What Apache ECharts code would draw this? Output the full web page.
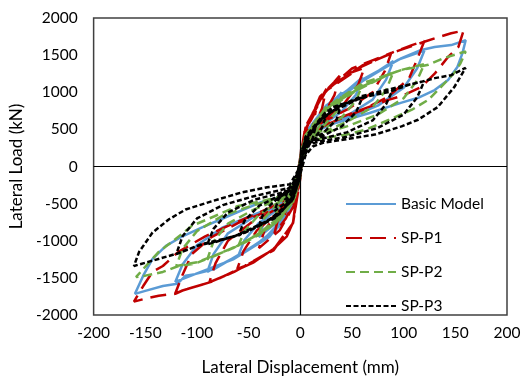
<!DOCTYPE html>
<html>
<head>
<meta charset="utf-8">
<script src="https://cdn.jsdelivr.net/npm/echarts@6/dist/echarts.min.js"></script>
<style>html,body{margin:0;padding:0;background:#fff;}#c{width:524px;height:381px;}</style>
</head>
<body>
<div id="c"></div>
<script>
var seriesNames = ['Basic Model', 'SP-P1', 'SP-P2', 'SP-P3'];
var xTicks = [-200, -150, -100, -50, 0, 50, 100, 150, 200];
var yTicks = [-2000, -1500, -1000, -500, 0, 500, 1000, 1500, 2000];

var basicModel = [
[0,0],[3,200],[8,400],[6,250],[2,100],[0,-40],[-3,-200],[-8,-350],[-6,-220],[-2,-90],[0,20],
[3,250],[8,450],[15,600],[12,420],[6,250],[2,150],[0,-80],[-4,-300],[-10,-450],[-15,-550],[-12,-390],[-6,-230],[-2,-130],[0,40],
[4,320],[12,560],[25,800],[21,600],[12,400],[4,250],[0,-100],[-5,-380],[-14,-580],[-25,-750],[-21,-560],[-12,-380],[-4,-250],[0,60],
[5,380],[18,680],[40,1000],[35,780],[22,560],[8,380],[2,260],[0,-120],[-6,-430],[-20,-720],[-40,-950],[-35,-740],[-22,-530],[-8,-370],[-2,-260],[0,80],
[5,400],[20,720],[40,960],[60,1200],[54,970],[40,740],[20,540],[6,400],[2,280],[0,-150],[-6,-480],[-20,-800],[-40,-1020],[-60,-1200],[-54,-990],[-40,-760],[-20,-560],[-6,-400],[-2,-280],[0,100],
[5,420],[25,780],[55,1100],[90,1420],[83,1170],[70,900],[45,680],[20,520],[6,400],[1,250],[-1,-200],[-7,-520],[-25,-880],[-55,-1160],[-90,-1420],[-84,-1180],[-70,-900],[-45,-680],[-20,-520],[-6,-410],[0,100],
[5,430],[25,800],[60,1150],[95,1440],[120,1560],[113,1320],[100,1060],[75,820],[45,650],[20,520],[6,410],[1,260],[-1,-220],[-8,-560],[-30,-950],[-65,-1250],[-100,-1440],[-121,-1555],[-114,-1320],[-100,-1060],[-75,-820],[-45,-650],[-20,-510],[-6,-410],[0,120],
[5,450],[25,820],[60,1170],[98,1460],[117,1570],[130,1610],[146,1635],[160,1700],[157,1530],[152,1340],[143,1165],[130,1030],[114,925],[98,860],[67,720],[35,590],[19,500],[6,400],[1,250],[-1,-250],[-10,-575],[-23,-800],[-38,-1020],[-61,-1200],[-83,-1380],[-102,-1450],[-111,-1470],[-119,-1580],[-133,-1610],[-150,-1675],[-160,-1715],[-152,-1470],[-143,-1245],[-130,-1070],[-114,-940],[-95,-820],[-70,-670],[-38,-480],[-16,-400],[-4,-300],[0,0]
];

var spP1 = [
[0,0],[3,300],[8,500],[6,320],[2,120],[0,-50],[-3,-250],[-8,-450],[-6,-280],[-2,-100],[0,30],
[3,320],[8,560],[15,750],[12,540],[6,320],[2,170],[0,-80],[-4,-350],[-10,-520],[-15,-650],[-12,-460],[-6,-280],[-2,-150],[0,50],
[4,400],[12,720],[25,1040],[21,780],[12,500],[4,300],[0,-100],[-5,-450],[-14,-700],[-25,-900],[-21,-680],[-12,-450],[-4,-280],[0,70],
[5,460],[18,900],[38,1220],[33,960],[22,680],[8,450],[2,300],[0,-120],[-6,-520],[-20,-860],[-40,-1100],[-35,-870],[-22,-620],[-8,-420],[-2,-290],[0,90],
[5,480],[19,940],[38,1210],[62,1330],[56,1100],[42,840],[22,620],[7,450],[2,300],[0,-160],[-7,-750],[-13,-940],[-26,-1110],[-45,-1290],[-61,-1380],[-55,-1140],[-42,-860],[-22,-630],[-7,-450],[-2,-300],[0,110],
[5,500],[22,980],[50,1320],[88,1530],[82,1290],[70,1000],[47,780],[22,600],[7,460],[1,280],[-1,-220],[-7,-760],[-26,-1130],[-64,-1420],[-88,-1560],[-82,-1300],[-70,-1000],[-48,-760],[-24,-580],[-7,-440],[0,120],
[5,520],[25,1020],[60,1350],[90,1540],[108,1635],[120,1690],[113,1440],[105,1180],[85,940],[60,760],[35,620],[15,500],[5,380],[1,250],[-1,-240],[-7,-760],[-26,-1120],[-64,-1420],[-90,-1570],[-102,-1620],[-114,-1670],[-121,-1710],[-114,-1460],[-105,-1180],[-86,-950],[-60,-760],[-35,-620],[-15,-500],[-5,-380],[0,130],
[5,540],[25,1040],[60,1360],[95,1560],[120,1680],[133,1740],[146,1795],[158,1830],[153,1610],[143,1475],[130,1250],[117,1070],[100,960],[86,900],[60,770],[35,640],[15,480],[5,300],[0,0],[-7,-750],[-13,-940],[-26,-1110],[-45,-1290],[-64,-1410],[-83,-1540],[-102,-1620],[-114,-1670],[-121,-1715],[-137,-1740],[-150,-1780],[-161,-1820],[-152,-1610],[-143,-1420],[-133,-1340],[-118,-1150],[-102,-1020],[-92,-940],[-70,-800],[-48,-670],[-26,-535],[-8,-400],[0,-100]
];

var spP2 = [
[0,0],[3,220],[8,400],[6,250],[2,90],[0,-40],[-3,-190],[-8,-350],[-6,-210],[-2,-80],[0,20],
[3,250],[8,450],[15,600],[12,420],[6,250],[2,140],[0,-70],[-4,-280],[-10,-420],[-15,-500],[-12,-360],[-6,-220],[-2,-120],[0,40],
[4,320],[12,560],[25,800],[21,600],[12,400],[4,250],[0,-90],[-5,-350],[-14,-540],[-25,-700],[-21,-520],[-12,-350],[-4,-230],[0,60],
[5,370],[18,660],[40,950],[35,740],[22,540],[8,370],[2,250],[0,-110],[-6,-420],[-20,-680],[-40,-900],[-35,-700],[-22,-500],[-8,-350],[-2,-240],[0,80],
[5,390],[20,700],[40,920],[60,1100],[54,890],[40,660],[20,480],[6,370],[2,260],[0,-140],[-6,-450],[-20,-720],[-40,-920],[-60,-1070],[-54,-870],[-40,-650],[-20,-470],[-6,-360],[-2,-250],[0,90],
[5,400],[25,760],[55,1030],[90,1270],[83,1030],[70,800],[45,600],[20,450],[6,370],[1,240],[-1,-190],[-7,-480],[-25,-780],[-55,-1030],[-90,-1250],[-84,-1010],[-70,-770],[-45,-580],[-20,-440],[-6,-360],[0,100],
[5,410],[25,780],[60,1080],[95,1290],[120,1380],[113,1160],[100,920],[75,700],[45,540],[20,440],[6,370],[1,240],[-1,-200],[-8,-500],[-30,-820],[-65,-1100],[-100,-1290],[-120,-1340],[-114,-1110],[-100,-870],[-75,-660],[-45,-520],[-20,-420],[-6,-350],[0,100],
[5,420],[25,800],[60,1120],[98,1300],[124,1370],[139,1460],[160,1550],[155,1390],[149,1260],[136,1070],[124,900],[108,765],[86,630],[64,500],[45,430],[26,390],[12,360],[4,250],[0,0],[-10,-535],[-23,-710],[-38,-890],[-61,-1070],[-83,-1200],[-102,-1310],[-118,-1340],[-133,-1420],[-150,-1470],[-159,-1490],[-152,-1380],[-137,-1150],[-121,-980],[-105,-800],[-83,-670],[-61,-535],[-38,-470],[-19,-400],[-5,-300],[0,-50]
];

var spP3 = [
[0,0],[3,200],[8,350],[6,200],[2,80],[0,-40],[-3,-170],[-8,-300],[-6,-180],[-2,-70],[0,20],
[3,230],[8,420],[15,550],[12,380],[6,220],[2,130],[0,-60],[-4,-250],[-10,-380],[-15,-450],[-12,-320],[-6,-200],[-2,-110],[0,40],
[4,290],[12,500],[25,700],[21,520],[12,350],[4,230],[0,-80],[-5,-320],[-14,-490],[-25,-600],[-21,-440],[-12,-300],[-4,-200],[0,50],
[5,340],[18,600],[40,850],[35,630],[22,450],[8,320],[2,230],[0,-100],[-6,-380],[-20,-620],[-40,-800],[-35,-600],[-22,-430],[-8,-310],[-2,-220],[0,70],
[5,360],[20,640],[40,830],[60,930],[54,730],[40,540],[20,400],[6,320],[2,240],[0,-120],[-6,-400],[-20,-640],[-40,-800],[-60,-930],[-54,-730],[-40,-530],[-20,-390],[-6,-310],[-2,-230],[0,80],
[5,380],[25,700],[55,900],[90,1050],[83,840],[70,620],[45,460],[20,370],[6,310],[1,220],[-1,-180],[-7,-440],[-25,-700],[-55,-900],[-90,-1050],[-84,-840],[-70,-620],[-45,-450],[-20,-360],[-6,-300],[0,80],
[5,400],[25,740],[60,950],[95,1070],[120,1150],[113,930],[100,700],[75,520],[45,400],[20,340],[6,290],[1,200],[-1,-180],[-8,-460],[-30,-720],[-65,-950],[-100,-1070],[-120,-1180],[-114,-940],[-100,-700],[-75,-520],[-45,-400],[-20,-320],[-6,-270],[0,80],
[10,455],[19,630],[31,800],[48,870],[64,940],[86,1005],[105,1100],[117,1140],[130,1190],[146,1230],[160,1330],[149,1070],[133,800],[114,630],[98,540],[72,430],[41,360],[22,320],[12,270],[5,150],[0,-100],[-10,-480],[-23,-670],[-42,-800],[-64,-940],[-95,-1045],[-121,-1180],[-161,-1340],[-156,-1150],[-143,-890],[-127,-710],[-111,-580],[-86,-470],[-57,-350],[-32,-280],[-10,-240],[0,0]
];

var FONT = 'Lato';
var chart = echarts.init(document.getElementById('c'), null, {renderer: 'canvas'});

function mkSeries(name, data, color, type, z) {
  return {
    name: name, type: 'line', data: data, showSymbol: false, symbol: 'none',
    smooth: false, animation: false, z: z,
    lineStyle: {color: color, width: 2.5, type: type},
    itemStyle: {color: color}
  };
}

var series = [
  mkSeries(seriesNames[0], basicModel, '#5B9BD5', 'solid', 2),
  mkSeries(seriesNames[1], spP1, '#C00000', [16, 8], 3),
  mkSeries(seriesNames[2], spP2, '#70AD47', [9, 5], 4),
  mkSeries(seriesNames[3], spP3, '#000000', [5, 2.5], 5)
];
series[0].markLine = {
  silent: true, symbol: 'none', animation: false, label: {show: false},
  lineStyle: {color: '#000', width: 1.2, type: 'solid'},
  data: [{xAxis: 0}, {yAxis: 0}]
};

function plain(v) { return String(v); }

chart.setOption({
  animation: false,
  backgroundColor: '#fff',
  grid: {left: 87, right: 17, top: 18, bottom: 65, show: true, borderColor: '#404040', borderWidth: 1.5},
  legend: {
    data: seriesNames, orient: 'vertical', left: 340, top: 191,
    itemWidth: 50, itemHeight: 14, itemGap: 18,
    itemStyle: {opacity: 0},
    textStyle: {fontFamily: FONT, fontSize: 15.5, color: '#000'}
  },
  xAxis: {
    type: 'value', min: xTicks[0], max: xTicks[xTicks.length - 1], interval: 50,
    name: 'Lateral Displacement (mm)', nameLocation: 'middle', nameGap: 44,
    nameTextStyle: {fontFamily: FONT, fontSize: 17, color: '#000'},
    axisLine: {show: false, onZero: false}, axisTick: {show: false}, splitLine: {show: false},
    axisLabel: {fontFamily: FONT, fontSize: 15.5, color: '#000', margin: 10, formatter: plain}
  },
  yAxis: {
    type: 'value', min: yTicks[0], max: yTicks[yTicks.length - 1], interval: 500,
    name: 'Lateral Load (kN)', nameLocation: 'middle', nameGap: 61, nameRotate: 90,
    nameTextStyle: {fontFamily: FONT, fontSize: 17, color: '#000'},
    axisLine: {show: false, onZero: false}, axisTick: {show: false}, splitLine: {show: false},
    axisLabel: {fontFamily: FONT, fontSize: 15.5, color: '#000', margin: 16, formatter: plain}
  },
  series: series
});
</script>
</body>
</html>
